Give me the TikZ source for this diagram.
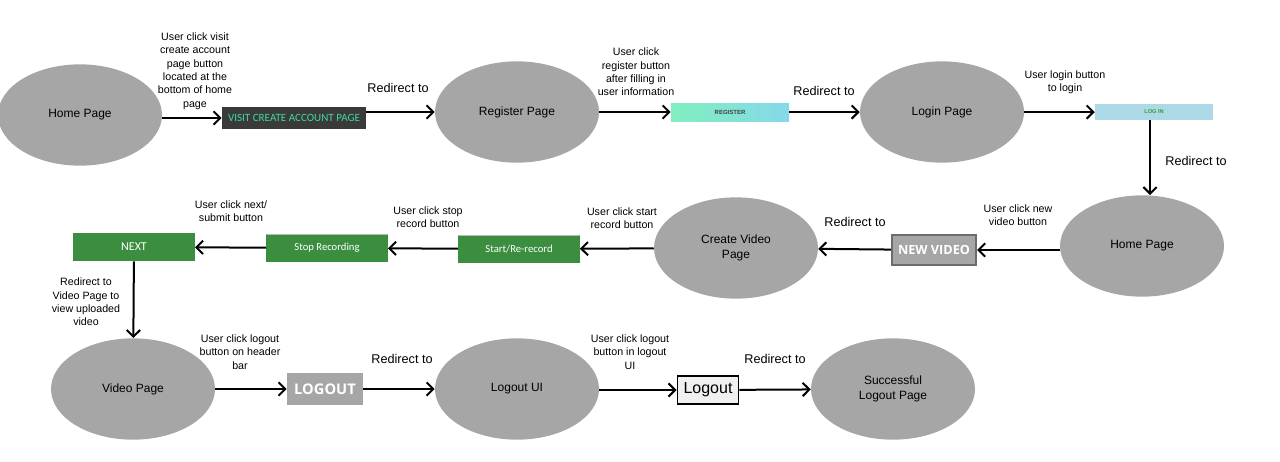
\documentclass[tikz,border=0pt]{standalone}
\usepackage{fontspec}
\setmainfont{Liberation Sans}
\newfontfamily\calibri{Carlito}
\newfontfamily\opensans{Open Sans}
\usetikzlibrary{arrows.meta,shapes.geometric}
\definecolor{pagegray}{HTML}{A6A6A6}
\definecolor{btngreen}{HTML}{3B8E40}
\definecolor{btnmint}{HTML}{80EFBF}
\definecolor{btnsky}{HTML}{86D8EA}
\definecolor{loginblue}{HTML}{ADD8E6}
\definecolor{logingreen}{HTML}{2E9E3A}
\definecolor{visitdark}{HTML}{3A3A3A}
\definecolor{visitteal}{HTML}{3DDB9A}
\begin{document}
\begin{tikzpicture}
    [x=0.75pt,y=-0.75pt,
     page/.style={ellipse,fill=pagegray,minimum width=123pt,minimum height=76pt,
                  inner sep=0pt,align=center,font=\fontsize{9}{11.5}\selectfont},
     note/.style={align=center,inner sep=0pt,font=\fontsize{8}{10}\selectfont},
     redirect/.style={inner sep=0pt,font=\fontsize{9.5}{11}\selectfont},
     greenbtn/.style={fill=btngreen,text=white,minimum width=91pt,minimum height=21pt,
                      inner sep=0pt,font=\calibri\fontsize{8}{10}\selectfont},
     topline/.style={path picture={\draw[gray!55,line width=1.5pt]
                      (path picture bounding box.north west) -- (path picture bounding box.north east);}},
     graybtn/.style={fill=pagegray,text=white,inner sep=0pt,font=\opensans\bfseries\fontsize{9.5}{11}\selectfont},
     flow/.style={-{Straight Barb[length=5pt,width=10pt]},line width=1.5pt}]
    \useasboundingbox (0,0) rectangle (1280,461);
    % first row
    \node[page] (home) at (80,115) {Home Page};
    \node[fill=visitdark,text=visitteal,minimum width=108pt,minimum height=16pt,inner sep=0pt,
          font=\calibri\fontsize{8.3}{9}\selectfont] (visitbtn) at (294,118) {VISIT CREATE ACCOUNT PAGE};
    \node[page] (register) at (517,112) {Register Page};
    \node[left color=btnmint,right color=btnsky,text=black!75,minimum width=88.5pt,minimum height=13.5pt,
          inner sep=0pt,font=\bfseries\fontsize{4.5}{5}\selectfont] (registerbtn) at (730,112) {REGISTER};
    \node[page] (login) at (942,112) {Login Page};
    \node[fill=loginblue,text=logingreen,minimum width=88.5pt,minimum height=12pt,inner sep=0pt,
          font=\bfseries\fontsize{4.2}{5}\selectfont] (loginbtn) at (1154,112) {LOG IN};
    % second row
    \node[page] (home2) at (1142,246) {Home Page};
    \node[graybtn,draw=gray!85!black,line width=1.5pt,minimum width=63pt,minimum height=23pt] (newvideo) at (934,250) {NEW VIDEO};
    \node[page] (createvideo) at (736,248) {Create Video\\Page};
    \node[greenbtn,topline] (startbtn) at (519,249) {Start/Re-record};
    \node[greenbtn,topline] (stopbtn) at (327,248) {Stop Recording};
    \node[greenbtn,font=\calibri\fontsize{9}{10}\selectfont] (nextbtn) at (134,247) {NEXT};
    % third row
    \node[page] (video) at (133,389) {Video Page};
    \node[graybtn,font=\opensans\bfseries\fontsize{11}{12}\selectfont,minimum width=57pt,minimum height=24pt] (logoutbtn) at (325,389) {LOGOUT};
    \node[page] (logoutui) at (517,389) {Logout UI};
    \node[fill=black!6,draw=black,line width=1.2pt,minimum width=46pt,minimum height=21pt,inner sep=0pt,
          font=\fontsize{12}{14}\selectfont] (logoutbox) at (708,390) {Logout};
    \node[page] (success) at (893,389) {Successful\\Logout Page};
    % labels
    \node[note] (visitnote) at (195,71) {User click visit\\create account\\page button\\located at the\\bottom of home\\page};
    \node[redirect] (redirecta) at (398,88) {Redirect to};
    \node[note] (registernote) at (636,72) {User click\\register button\\after filling in\\user information};
    \node[redirect] (redirectb) at (824,91) {Redirect to};
    \node[note] (loginnote) at (1065,82) {User login button\\to login};
    \node[redirect] (redirectc) at (1196,161) {Redirect to};
    \node[note] (newvideonote) at (1018,215) {User click new\\video button};
    \node[redirect] (redirectd) at (855,222) {Redirect to};
    \node[note] (startnote) at (622,218) {User click start\\record button};
    \node[note] (stopnote) at (428,217) {User click stop\\record button};
    \node[note] (nextnote) at (231,211) {User click next/\\submit button};
    \node[note] (videonote) at (86,302) {Redirect to\\Video Page to\\view uploaded\\video};
    \node[note] (logoutnote) at (240,352) {User click logout\\button on header\\bar};
    \node[redirect] (redirecte) at (402,359) {Redirect to};
    \node[note] (uinote) at (630,352) {User click logout\\button in logout\\UI};
    \node[redirect] (redirectf) at (775,359) {Redirect to};
    % connectors
    \draw[flow] (home.east |- visitbtn.west) -- (visitbtn.west);
    \draw[flow] (visitbtn.east |- register.west) -- (register.west);
    \draw[flow] (register) -- (registerbtn);
    \draw[flow] (registerbtn) -- (login);
    \draw[flow] (login) -- (loginbtn);
    \draw[flow] (loginbtn.south -| 1150,0) -- (home2.north -| 1150,0);
    \draw[flow] (home2.west |- newvideo.east) -- (newvideo.east);
    \draw[flow] (newvideo) -- (createvideo);
    \draw[flow] (createvideo) -- (startbtn);
    \draw[flow] (startbtn) -- (stopbtn);
    \draw[flow] (stopbtn) -- (nextbtn);
    \draw[flow] (nextbtn) -- (video);
    \draw[flow] (video) -- (logoutbtn);
    \draw[flow] (logoutbtn) -- (logoutui);
    \draw[flow] (logoutui.east |- logoutbox.west) -- (logoutbox.west);
    \draw[flow] (logoutbox) -- (success);
\end{tikzpicture}
\end{document}
